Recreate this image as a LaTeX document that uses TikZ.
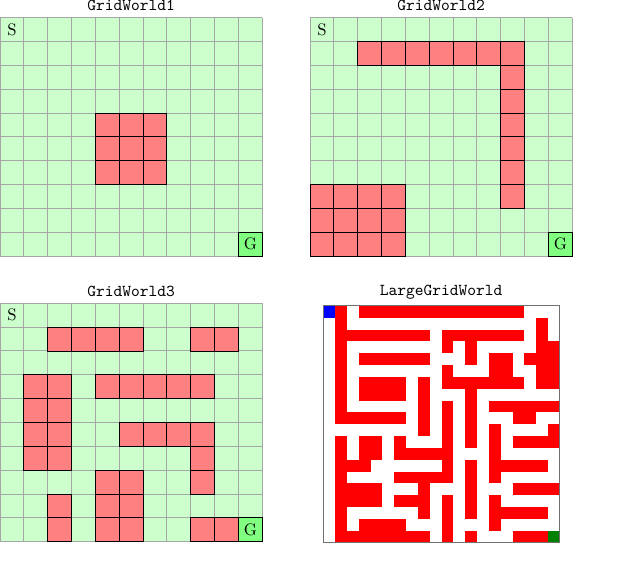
\documentclass[tikz,border=0pt]{standalone}
\definecolor{freegreen}{HTML}{CCFFCC}
\definecolor{gridgray}{HTML}{A6A6A6}
\definecolor{wallred}{HTML}{FF8080}
\definecolor{goalgreen}{HTML}{80FF80}
\definecolor{mazered}{HTML}{FF0000}
\definecolor{mazeblue}{HTML}{0000FF}
\definecolor{mazegreen}{HTML}{008000}
\definecolor{mazeborder}{HTML}{707070}
\tikzset{
  wall/.style={fill=wallred, draw=black, line width=0.55pt},
  goalcell/.style={fill=goalgreen, draw=black, line width=0.55pt},
  gridline/.style={draw=gridgray, line width=0.6pt},
  gridtitle/.style={font=\ttfamily\fontsize{10}{12}\selectfont, anchor=base, inner sep=0pt},
  celltext/.style={font=\fontsize{10}{12}\selectfont, inner sep=0pt},
  smallgrid/.style={x=14.31pt, y=-14.31pt},
  mazegrid/.style={x=7.098pt, y=-7.098pt}
}
\begin{document}
\begin{tikzpicture}[x=0.6pt,y=-0.6pt]
\useasboundingbox (0,0) rectangle (640,576);
% titles
\node[gridtitle] (t1) at (131,11) {GridWorld1};
\node[gridtitle] (t2) at (441,11) {GridWorld2};
\node[gridtitle] (t3) at (131,296.5) {GridWorld3};
\node[gridtitle] (t4) at (441,295.5) {LargeGridWorld};

% ---------- GridWorld1 ----------
\begin{scope}[yshift=-10.62pt, smallgrid]
  \fill[freegreen] (0,0) rectangle (11,10);
  \foreach \i in {0,...,11} \draw[gridline] (\i,0) -- (\i,10);
  \foreach \j in {0,...,10} \draw[gridline] (0,\j) -- (11,\j);
  \foreach \c/\r in {4/4,5/4,6/4,4/5,5/5,6/5,4/6,5/6,6/6}
    \draw[wall] (\c,\r) rectangle ++(1,1);
  \draw[goalcell] (10,9) rectangle (11,10);
  \node[celltext] (s1) at (0.5,0.5) {S};
  \node[celltext] (g1) at (10.5,9.5) {G};
\end{scope}

% ---------- GridWorld2 ----------
\begin{scope}[xshift=186pt, yshift=-10.62pt, smallgrid]
  \fill[freegreen] (0,0) rectangle (11,10);
  \foreach \i in {0,...,11} \draw[gridline] (\i,0) -- (\i,10);
  \foreach \j in {0,...,10} \draw[gridline] (0,\j) -- (11,\j);
  \foreach \c in {2,...,8} \draw[wall] (\c,1) rectangle ++(1,1);
  \foreach \r in {2,...,7} \draw[wall] (8,\r) rectangle ++(1,1);
  \foreach \c in {0,...,3} \foreach \r in {7,8,9} \draw[wall] (\c,\r) rectangle ++(1,1);
  \draw[goalcell] (10,9) rectangle (11,10);
  \node[celltext] (s2) at (0.5,0.5) {S};
  \node[celltext] (g2) at (10.5,9.5) {G};
\end{scope}

% ---------- GridWorld3 ----------
\begin{scope}[yshift=-181.98pt, smallgrid]
  \fill[freegreen] (0,0) rectangle (11,10);
  \foreach \i in {0,...,11} \draw[gridline] (\i,0) -- (\i,10);
  \foreach \j in {0,...,10} \draw[gridline] (0,\j) -- (11,\j);
  \foreach \c/\r in {2/1,3/1,4/1,5/1,8/1,9/1,
                     1/3,2/3,4/3,5/3,6/3,7/3,8/3,
                     1/4,2/4,
                     1/5,2/5,5/5,6/5,7/5,8/5,
                     1/6,2/6,8/6,
                     4/7,5/7,8/7,
                     2/8,4/8,5/8,
                     2/9,4/9,5/9,8/9,9/9}
    \draw[wall] (\c,\r) rectangle ++(1,1);
  \draw[goalcell] (10,9) rectangle (11,10);
  \node[celltext] (s3) at (0.5,0.5) {S};
  \node[celltext] (g3) at (10.5,9.5) {G};
\end{scope}

% ---------- LargeGridWorld ----------
\begin{scope}[xshift=193.98pt, yshift=-183.6pt, mazegrid]
  \fill[white] (0,0) rectangle (20,20);
  \foreach \r/\a/\b in {
     0/1/1, 0/3/16,
     1/1/1, 1/18/18,
     2/1/8, 2/10/16, 2/18/18,
     3/1/1, 3/10/10, 3/12/12, 3/18/19,
     4/1/1, 4/3/8, 4/12/12, 4/14/15, 4/17/19,
     5/1/1, 5/10/10, 5/14/15, 5/18/19,
     6/1/1, 6/3/6, 6/8/8, 6/10/16, 6/18/19,
     7/1/1, 7/3/6, 7/8/8, 7/12/12,
     8/1/1, 8/8/8, 8/10/10, 8/12/12, 8/14/19,
     9/1/6, 9/8/8, 9/10/10, 9/12/12, 9/16/17,
     10/8/8, 10/10/10, 10/12/12, 10/14/14, 10/19/19,
     11/1/1, 11/3/4, 11/6/6, 11/10/10, 11/12/12, 11/14/14, 11/16/19,
     12/1/1, 12/3/4, 12/6/10, 12/14/14,
     13/1/3, 13/10/10, 13/12/12, 13/14/18,
     14/1/1, 14/6/10, 14/12/12, 14/14/14,
     15/1/4, 15/8/8, 15/12/12, 15/16/19,
     16/1/4, 16/6/8, 16/10/10, 16/12/12, 16/14/14,
     17/1/1, 17/8/8, 17/10/10, 17/12/12, 17/14/18,
     18/1/1, 18/3/6, 18/10/10, 18/14/14,
     19/1/8, 19/10/10, 19/12/12, 19/16/18}
    \fill[mazered] (\a,\r) rectangle (\b+1,\r+1);
  \fill[mazeblue] (0,0) rectangle (1,1);
  \fill[mazegreen] (19,19) rectangle (20,20);
  \draw[mazeborder, line width=0.6pt] (0,0) rectangle (20,20);
\end{scope}
\end{tikzpicture}
\end{document}
